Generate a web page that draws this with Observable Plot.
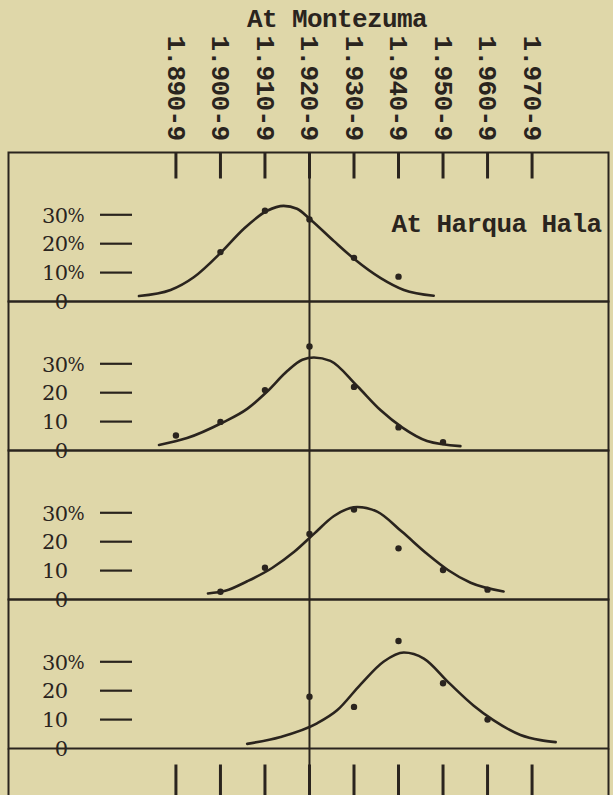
<!DOCTYPE html>
<html>
<head>
<meta charset="utf-8">
<script src="https://cdn.jsdelivr.net/npm/d3@7"></script>
<script src="https://cdn.jsdelivr.net/npm/@observablehq/plot@0.6"></script>
<style>
html, body { margin: 0; padding: 0; background: #dfd7a9; }
#wrap { position: relative; width: 613px; height: 795px; overflow: hidden; }
#title { position: absolute; left: 247px; top: 7px; font: bold 26px "Liberation Mono", monospace;
  line-height: 26px; letter-spacing: -0.6px; color: #2a241e; white-space: nowrap; }
</style>
</head>
<body>
<div id="wrap"><div id="title"></div><div id="chart"></div></div>
<script>
// ---- text ----
const title = "At Montezuma";
const subtitle = "At Harqua Hala";

// ---- panels (four distributions, top to bottom) ----
const panels = ["Panel 1", "Panel 2", "Panel 3", "Panel 4"];

// ---- x ticks (Montezuma values) ----
const xTicks = [1.890, 1.900, 1.910, 1.920, 1.930, 1.940, 1.950, 1.960, 1.970];
const xTickLabels = ["1.890-9", "1.900-9", "1.910-9", "1.920-9", "1.930-9", "1.940-9", "1.950-9", "1.960-9", "1.970-9"];
const referenceX = 1.920;

// ---- y ticks (percent) ----
const yTickValues = [30, 20, 10, 0];
const yTickLabels = [
  ["30%", "20%", "10%", "0"],
  ["30%", "20", "10", "0"],
  ["30%", "20", "10", "0"],
  ["30%", "20", "10", "0"]
];

// ---- observed points ----
const dotX1 = [1.900, 1.910, 1.920, 1.930, 1.940];
const dotY1 = [17.1, 31.4, 28.4, 15.1, 8.6];
const dotX2 = [1.890, 1.900, 1.910, 1.920, 1.930, 1.940, 1.950];
const dotY2 = [5.2, 9.9, 20.9, 36.0, 22.0, 8.0, 2.9];
const dotX3 = [1.900, 1.910, 1.920, 1.930, 1.940, 1.950, 1.960];
const dotY3 = [2.7, 11.0, 22.7, 31.1, 17.7, 10.2, 3.4];
const dotX4 = [1.920, 1.930, 1.940, 1.950, 1.960];
const dotY4 = [17.9, 14.4, 37.2, 22.6, 10.0];

// ---- smooth curves ----
const curveX1 = [1.8817, 1.8888, 1.8940, 1.9002, 1.9052, 1.9105, 1.9142, 1.9172, 1.9202, 1.9255, 1.9300, 1.9360, 1.9412, 1.9479];
const curveY1 = [1.9, 4.0, 8.4, 17.1, 25.1, 31.4, 33.1, 32.1, 28.4, 20.9, 14.8, 8.1, 4.0, 2.0];
const curveX2 = [1.8862, 1.8925, 1.9004, 1.9060, 1.9105, 1.9150, 1.9184, 1.9210, 1.9247, 1.9307, 1.9360, 1.9408, 1.9464, 1.9539];
const curveY2 = [1.9, 4.3, 9.6, 14.4, 20.4, 27.5, 31.4, 32.2, 31.0, 22.3, 13.9, 8.0, 3.3, 1.5];
const curveX3 = [1.8972, 1.9011, 1.9060, 1.9116, 1.9165, 1.9210, 1.9255, 1.9307, 1.9352, 1.9408, 1.9464, 1.9511, 1.9562, 1.9636];
const curveY3 = [2.1, 3.0, 6.3, 10.9, 16.4, 22.7, 28.9, 32.0, 30.4, 23.4, 15.8, 10.2, 5.8, 2.8];
const curveX4 = [1.9060, 1.9135, 1.9217, 1.9262, 1.9315, 1.9367, 1.9412, 1.9457, 1.9514, 1.9569, 1.9613, 1.9674, 1.9719, 1.9753];
const curveY4 = [1.6, 4.0, 8.7, 13.2, 22.2, 30.1, 33.2, 31.1, 22.6, 14.8, 9.8, 4.7, 2.9, 2.2];

// ---- build tables ----
const toRows = (pairs) => pairs.flatMap(([xs, ys], k) => xs.map((x, i) => ({panel: panels[k], x, y: ys[i]})));
const dotRows = toRows([[dotX1, dotY1], [dotX2, dotY2], [dotX3, dotY3], [dotX4, dotY4]]);
const curveRows = toRows([[curveX1, curveY1], [curveX2, curveY2], [curveX3, curveY3], [curveX4, curveY4]]);
const labelRows = panels.flatMap((p, k) => yTickValues.map((v, i) => ({
  panel: p, value: v, num: yTickLabels[k][i].replace("%", ""), pct: yTickLabels[k][i].endsWith("%")
})));
const dashRows = labelRows.filter(d => d.value > 0);

const ink = "#2a241e";
const xDomain = [1.85239, 1.98717];
const facetH = 149.5;
const mono = '"Liberation Mono", monospace';
const serif = '"DejaVu Serif", serif';

document.getElementById("title").textContent = title;

const chart = Plot.plot({
  width: 613,
  height: 795,
  marginTop: 151,
  marginBottom: 46,
  marginLeft: 8,
  marginRight: 5,
  style: {background: "transparent", color: ink, fontFamily: mono, fontSize: "26px", letterSpacing: "-0.6px", overflow: "visible"},
  x: {domain: xDomain, label: null},
  y: {domain: [0, facetH / 2.9], axis: null},
  fy: {domain: panels, padding: 0, axis: null},
  marks: [
    Plot.frame({stroke: ink, strokeWidth: 2}),
    Plot.ruleX([referenceX], {stroke: ink, strokeWidth: 2}),
    // continuation of frame sides and reference line below last panel
    Plot.ruleX([xDomain[0], referenceX, xDomain[1]], {fy: () => panels[3], stroke: ink, strokeWidth: 2, insetTop: facetH, insetBottom: -50}),
    // inward ticks at top of first panel
    Plot.ruleX(xTicks, {fy: () => panels[0], stroke: ink, strokeWidth: 3, insetBottom: facetH - 27}),
    // ticks below last panel
    Plot.ruleX(xTicks, {fy: () => panels[3], stroke: ink, strokeWidth: 3, insetTop: facetH + 16, insetBottom: -50}),
    // y tick dashes
    Plot.ruleY(dashRows, {y: "value", fy: "panel", stroke: ink, strokeWidth: 2.2, insetLeft: 92, insetRight: 476}),
    Plot.text(labelRows, {y: "value", fy: "panel", text: "num", frameAnchor: "left", textAnchor: "end", dx: 59, dy: 1,
      fontFamily: serif, fontSize: 21, fill: ink}),
    Plot.text(labelRows.filter(d => d.pct), {y: "value", fy: "panel", text: () => "%", frameAnchor: "left", textAnchor: "start", dx: 59, dy: 1,
      fontFamily: serif, fontSize: 18, fill: ink}),
    Plot.line(curveRows, {x: "x", y: "y", fy: "panel", z: "panel", curve: "monotone-x", stroke: ink, strokeWidth: 2.6}),
    Plot.dot(dotRows, {x: "x", y: "y", fy: "panel", r: 3.2, fill: ink, stroke: "none"}),
    Plot.text([subtitle], {fy: () => panels[0], text: d => d, frameAnchor: "top-right", textAnchor: "end", lineAnchor: "middle", dx: -7, dy: 71,
      fontFamily: mono, fontSize: 26, fontWeight: "bold", fill: ink}),
    Plot.axisX({anchor: "top", ticks: xTicks, tickFormat: d => xTickLabels[xTicks.indexOf(d)], tickSize: 0, tickPadding: 12,
      tickRotate: 90, textAnchor: "end", label: null, fontFamily: mono, fontSize: 26, fontWeight: "bold", fill: ink})
  ]
});
document.getElementById("chart").appendChild(chart);
</script>
</body>
</html>
